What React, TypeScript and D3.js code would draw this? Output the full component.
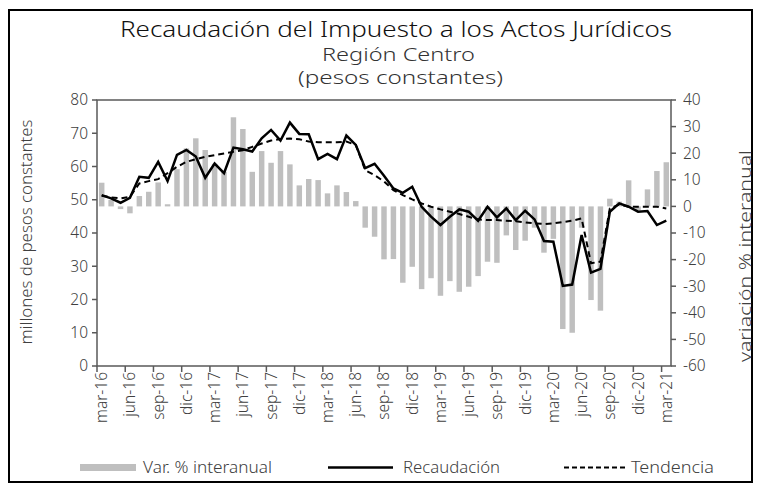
import React from "react";
import * as d3 from "d3";

// Monthly categories, mar-16 .. mar-21
const months = [
  "mar-16", "abr-16", "may-16", "jun-16", "jul-16", "ago-16", "sep-16", "oct-16", "nov-16", "dic-16",
  "ene-17", "feb-17", "mar-17", "abr-17", "may-17", "jun-17", "jul-17", "ago-17", "sep-17", "oct-17",
  "nov-17", "dic-17", "ene-18", "feb-18", "mar-18", "abr-18", "may-18", "jun-18", "jul-18", "ago-18",
  "sep-18", "oct-18", "nov-18", "dic-18", "ene-19", "feb-19", "mar-19", "abr-19", "may-19", "jun-19",
  "jul-19", "ago-19", "sep-19", "oct-19", "nov-19", "dic-19", "ene-20", "feb-20", "mar-20", "abr-20",
  "may-20", "jun-20", "jul-20", "ago-20", "sep-20", "oct-20", "nov-20", "dic-20", "ene-21", "feb-21",
  "mar-21",
];

// Year-over-year change, % (right axis)
const varInteranual = [
  8.9, 2.4, -1.0, -2.6, 3.9, 5.5, 9.0, 0.8, 14.0, 21.8,
  25.6, 21.2, 16.0, 13.0, 33.5, 29.1, 13.0, 20.8, 16.4, 20.8,
  15.8, 7.9, 10.3, 9.9, 4.9, 7.9, 5.4, 2.0, -8.0, -11.4,
  -19.9, -19.8, -28.7, -22.7, -31.1, -27.0, -33.6, -28.1, -32.1, -30.2,
  -26.2, -20.8, -21.2, -10.9, -16.4, -12.9, -8.0, -17.4, -12.2, -46.1,
  -47.5, -8.0, -35.2, -39.2, 2.9, 1.8, 9.8, -1.5, 6.4, 13.3,
  16.6,
];

// Collection, millions of constant pesos (left axis)
const recaudacion = [
  51.4, 50.4, 49.1, 50.6, 56.9, 56.6, 61.4, 55.6, 63.5, 65.0,
  63.0, 56.6, 60.9, 58.0, 65.7, 65.2, 64.5, 68.5, 71.0, 67.8,
  73.2, 69.8, 69.7, 62.2, 63.8, 62.2, 69.3, 66.5, 59.5, 60.8,
  57.2, 53.4, 52.1, 53.9, 47.9, 44.9, 42.4, 44.9, 47.1, 46.4,
  43.7, 47.9, 44.7, 47.4, 43.9, 46.7, 44.1, 37.6, 37.4, 24.1,
  24.5, 39.4, 28.1, 29.2, 46.4, 48.9, 47.9, 46.4, 46.6, 42.4,
  43.7,
];

// Trend component (left axis)
const tendencia = [
  51.2, 50.7, 50.4, 50.9, 54.9, 55.6, 56.2, 58.0, 59.9, 61.4,
  62.2, 62.9, 63.4, 63.9, 64.4, 64.9, 65.9, 66.9, 67.8, 68.3,
  68.4, 68.2, 67.5, 67.3, 67.3, 67.3, 67.5, 66.5, 58.9, 57.4,
  55.5, 52.9, 51.4, 50.1, 48.9, 47.9, 47.1, 46.4, 45.7, 44.9,
  44.1, 43.9, 43.9, 43.7, 43.5, 43.2, 42.9, 42.7, 42.9, 43.3,
  43.7, 44.4, 30.9, 31.4, 47.4, 48.6, 47.9, 47.9, 47.9, 47.9,
  47.4,
];

const leftTicks = [0, 10, 20, 30, 40, 50, 60, 70, 80];
const rightTicks = [-60, -50, -40, -30, -20, -10, 0, 10, 20, 30, 40];

const FONT = "'Noto Sans', Lato, sans-serif";
const AXIS_GRAY = "#595959";
const TEXT_GRAY = "#404040";
const BAR_GRAY = "#bfbfbf";

export default function App() {
  const W = 761;
  const H = 486;
  const plot = { left: 97, right: 671, top: 100, bottom: 366 };

  const pad = 0.42;
  const x = d3
    .scaleBand<string>()
    .domain(months)
    .range([plot.left, plot.right])
    .paddingInner(pad)
    .paddingOuter(pad / 2);
  const step = x.step();
  const cx = (m: string) => (x(m) as number) + x.bandwidth() / 2;
  const edge = (m: string) => (x(m) as number) - (step - x.bandwidth()) / 2;

  const yL = d3.scaleLinear().domain([0, 80]).range([plot.bottom, plot.top]);
  const yR = d3.scaleLinear().domain([-60, 40]).range([plot.bottom, plot.top]);

  const lineGen = d3
    .line<number>()
    .x((_, i) => cx(months[i]))
    .y((d) => yL(d));

  const tickMonths = months.filter((_, i) => i % 3 === 0);
  const stretch = "spacingAndGlyphs";

  return (
    <svg
      width={W}
      height={H}
      style={{ position: "absolute", left: 0, top: 0, background: "#fff" }}
      fontFamily={FONT}
      fontWeight={300}
    >
      <rect x={0} y={0} width={W} height={H} fill="#fff" />
      <rect x={9} y={10} width={743} height={472} fill="none" stroke="#000" strokeWidth={2} />

      {/* titles */}
      <text x={120} y={37} fontSize={21.5} fill="#111" textLength={552} lengthAdjust={stretch}>
        Recaudación del Impuesto a los Actos Jurídicos
      </text>
      <text x={322} y={61} fontSize={18} fill="#333" textLength={153} lengthAdjust={stretch}>
        Región Centro
      </text>
      <text x={298} y={84} fontSize={18} fill="#333" textLength={205} lengthAdjust={stretch}>
        (pesos constantes)
      </text>

      {/* bars */}
      {varInteranual.map((v, i) => {
        const y0 = yR(0);
        const y1 = yR(v);
        return (
          <rect
            key={months[i]}
            x={x(months[i])}
            y={Math.min(y0, y1)}
            width={x.bandwidth()}
            height={Math.abs(y1 - y0)}
            fill={BAR_GRAY}
          />
        );
      })}

      {/* lines */}
      <path d={lineGen(tendencia) || ""} fill="none" stroke="#000" strokeWidth={2} strokeDasharray="6,4" />
      <path d={lineGen(recaudacion) || ""} fill="none" stroke="#000" strokeWidth={2.5} strokeLinejoin="miter" />

      {/* plot frame */}
      <rect
        x={plot.left}
        y={plot.top}
        width={plot.right - plot.left}
        height={plot.bottom - plot.top}
        fill="none"
        stroke={AXIS_GRAY}
        strokeWidth={1.5}
      />

      {/* left axis */}
      {leftTicks.map((t) => (
        <g key={"l" + t}>
          <line x1={plot.left - 5} x2={plot.left} y1={yL(t)} y2={yL(t)} stroke={AXIS_GRAY} strokeWidth={1.5} />
          <text x={plot.left - 9} y={yL(t)} dy="0.35em" textAnchor="end" fontSize={15.5} fill={TEXT_GRAY}>
            {t}
          </text>
        </g>
      ))}
      <text
        transform={`translate(26,232) rotate(-90)`}
        textAnchor="middle"
        dy="0.35em"
        fontSize={16}
        fill={TEXT_GRAY}
        textLength={225}
        lengthAdjust={stretch}
      >
        millones de pesos constantes
      </text>

      {/* right axis */}
      {rightTicks.map((t) => (
        <g key={"r" + t}>
          <line x1={plot.right} x2={plot.right + 5} y1={yR(t)} y2={yR(t)} stroke={AXIS_GRAY} strokeWidth={1.5} />
          <text x={plot.right + 12} y={yR(t)} dy="0.35em" textAnchor="start" fontSize={15.5} fill={TEXT_GRAY}>
            {t}
          </text>
        </g>
      ))}
      <text
        transform={`translate(745,256) rotate(-90)`}
        textAnchor="middle"
        dy="0.35em"
        fontSize={16}
        fill={TEXT_GRAY}
        textLength={212}
        lengthAdjust={stretch}
      >
        variación % interanual
      </text>

      {/* x axis */}
      {tickMonths.map((m) => (
        <g key={"x" + m}>
          <line x1={edge(m)} x2={edge(m)} y1={plot.bottom} y2={plot.bottom + 6} stroke={AXIS_GRAY} strokeWidth={1.5} />
          <text
            transform={`translate(${cx(m)},${plot.bottom + 6}) rotate(-90)`}
            textAnchor="end"
            dy="0.35em"
            fontSize={15.5}
            fill={TEXT_GRAY}
          >
            {m}
          </text>
        </g>
      ))}

      {/* legend */}
      <g fontSize={15.5} fill={TEXT_GRAY}>
        <rect x={80} y={464} width={56} height={7} fill={BAR_GRAY} />
        <text x={143} y={468} dy="0.35em" textLength={129} lengthAdjust={stretch}>Var. % interanual</text>
        <line x1={328} x2={393} y1={467.5} y2={467.5} stroke="#000" strokeWidth={2.5} />
        <text x={403} y={468} dy="0.35em" textLength={97} lengthAdjust={stretch}>Recaudación</text>
        <line x1={564} x2={626} y1={467.5} y2={467.5} stroke="#000" strokeWidth={2} strokeDasharray="5,3" />
        <text x={631} y={468} dy="0.35em" textLength={83} lengthAdjust={stretch}>Tendencia</text>
      </g>
    </svg>
  );
}
